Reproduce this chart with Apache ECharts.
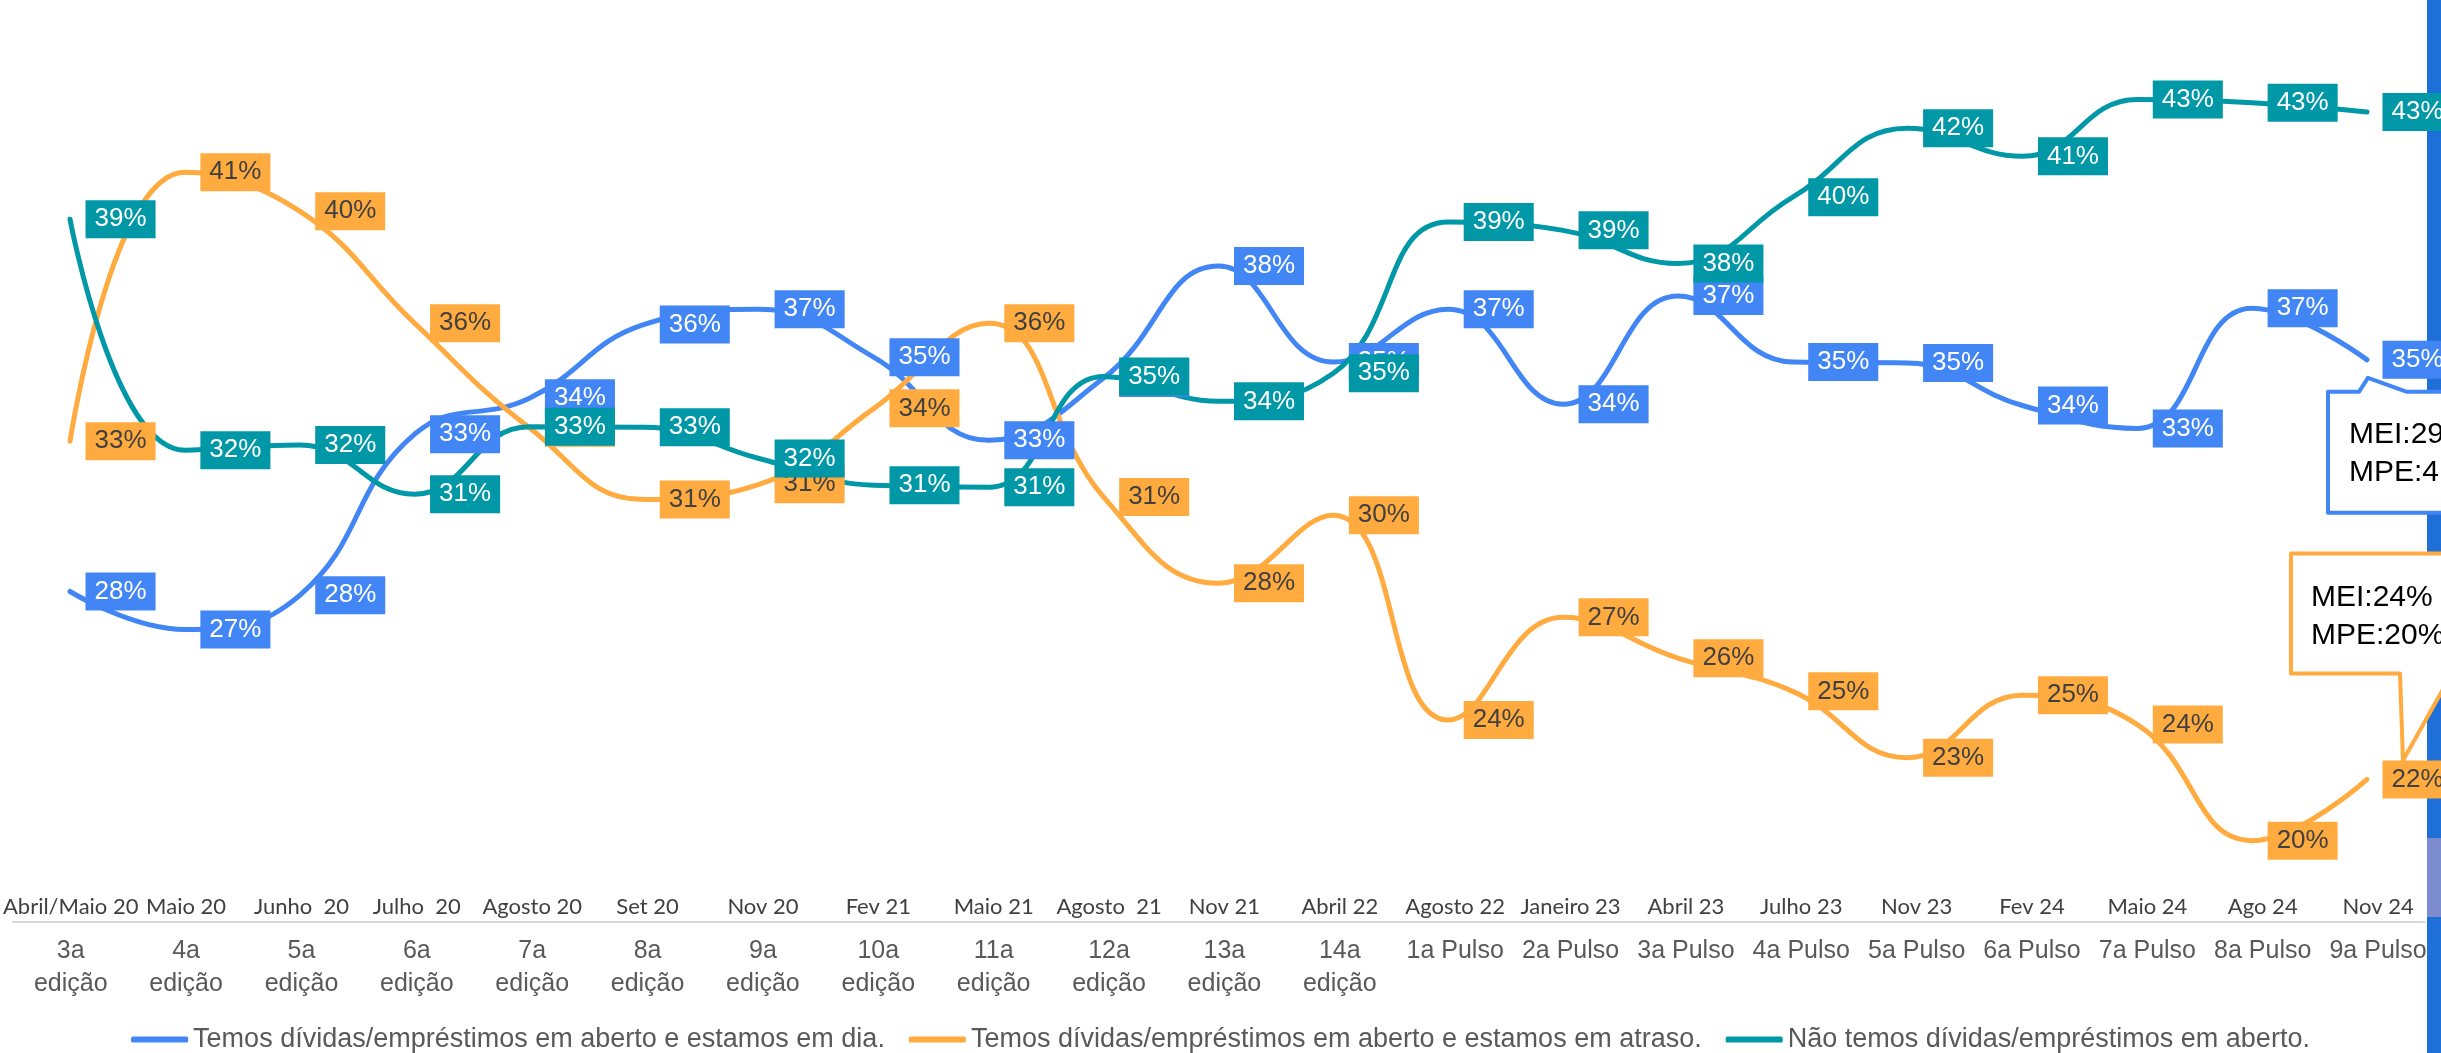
<!DOCTYPE html>
<html>
<head>
<meta charset="utf-8">
<title>Dívidas e empréstimos</title>
<script src="https://cdn.jsdelivr.net/npm/echarts@6/dist/echarts.min.js"></script>
<style>
html,body{margin:0;padding:0;background:#fff;}
#main{width:2441px;height:1053px;}
</style>
</head>
<body>
<div id="main"></div>
<script>
// categorias (data da pesquisa / edição)
var datas=['Abril/Maio 20','Maio 20','Junho  20','Julho  20','Agosto 20','Set 20','Nov 20','Fev 21','Maio 21','Agosto  21','Nov 21','Abril 22',
           'Agosto 22','Janeiro 23','Abril 23','Julho 23','Nov 23','Fev 24','Maio 24','Ago 24','Nov 24'];
var edicoes=['3a\nedição','4a\nedição','5a\nedição','6a\nedição','7a\nedição','8a\nedição','9a\nedição','10a\nedição','11a\nedição','12a\nedição','13a\nedição','14a\nedição',
             '1a Pulso','2a Pulso','3a Pulso','4a Pulso','5a Pulso','6a Pulso','7a Pulso','8a Pulso','9a Pulso'];

var nomes=['Temos dívidas/empréstimos em aberto e estamos em dia.',
           'Temos dívidas/empréstimos em aberto e estamos em atraso.',
           'Não temos dívidas/empréstimos em aberto.'];

// valores em %
var emDia=[27.81,26.62,27.69,32.74,33.87,36.18,36.66,35.15,32.55,34.50,38.01,35.00,36.66,33.68,37.07,35.00,34.97,33.64,32.92,36.69,35.07];
var emAtraso=[32.52,40.95,39.73,36.22,32.94,30.69,31.17,33.55,36.22,30.77,28.07,30.20,23.78,27.00,25.72,24.68,22.60,24.56,23.64,20.00,21.92];
var semDividas=[39.48,32.24,32.40,30.86,32.97,32.96,31.98,31.14,31.08,34.55,33.77,34.65,39.39,39.13,38.09,40.17,42.33,41.45,43.23,43.13,42.84];

// textos das caixas (última edição)
var calloutEmDia='MEI:29%\nMPE:4';
var calloutAtraso='MEI:24%\nMPE:20%';

var cores=['#4285F4','#FFAB40','#0097A7'];

window.onload=function(){

    var myChart=echarts.init(document.getElementById('main'),null,{renderer:'canvas'});

    function serie(i,valores,corTexto){
        return {
            name:nomes[i],
            type:'line',
            xAxisIndex:0,
            yAxisIndex:0,
            data:valores,
            smooth:0.45,
            symbol:'circle',
            symbolSize:1,
            itemStyle:{color:cores[i]},
            lineStyle:{width:5,color:cores[i],cap:'round'},
            label:{
                show:true,
                position:'right',
                distance:15,
                formatter:function(p){return Math.round(p.value)+'%';},
                backgroundColor:cores[i],
                color:corTexto,
                fontFamily:'Liberation Sans',
                fontSize:26,
                lineHeight:27,
                padding:[6,9,5,9]
            },
            emphasis:{disabled:true}
        };
    }

    var option={
        backgroundColor:'#fff',
        animation:false,
        grid:[
            {left:12.6,right:16.6,top:0,bottom:131.3},
            {left:11.3,right:5.2,top:0,bottom:131.3}
        ],
        legend:{
            top:1021,
            left:'center',
            itemWidth:57,
            itemHeight:6,
            itemGap:24,
            icon:'roundRect',
            textStyle:{fontFamily:'Liberation Sans',fontSize:27,color:'#595959'},
            data:nomes
        },
        xAxis:[
            {
                gridIndex:0,type:'category',data:edicoes,boundaryGap:true,
                axisLine:{show:true,lineStyle:{color:'#D9D9D9',width:2}},
                axisTick:{show:false},axisLabel:{show:false}
            },
            {
                gridIndex:1,type:'category',data:edicoes,boundaryGap:true,
                axisLine:{show:false},axisTick:{show:false},
                axisLabel:{interval:0,margin:13,fontFamily:'Liberation Sans',fontSize:25,lineHeight:33,color:'#595959'}
            },
            {
                gridIndex:1,type:'category',data:datas,boundaryGap:true,position:'bottom',
                axisLine:{show:false},axisTick:{show:false},
                axisLabel:{interval:0,inside:true,margin:4,fontFamily:'Lato',fontSize:22,color:'#404040'}
            }
        ],
        yAxis:[
            {gridIndex:0,type:'value',min:17.46,max:46.35,show:false,splitLine:{show:false}},
            {gridIndex:1,type:'value',min:0,max:1,show:false,splitLine:{show:false}}
        ],
        graphic:[
            {id:'barra',type:'rect',z:0,shape:{x:2427,y:0,width:14,height:1053},style:{fill:'#1F6FD8'}},
            {id:'faixa',type:'rect',z:0,shape:{x:2427,y:838,width:14,height:79},style:{fill:'#7D8CCF'}}
        ],
        series:[
            serie(0,emDia,'#fff'),
            serie(1,emAtraso,'#404040'),
            serie(2,semDividas,'#fff')
        ]
    };

    myChart.setOption(option);

    // caixas de destaque ligadas ao último ponto
    var n=datas.length-1;
    var a=myChart.convertToPixel({seriesIndex:0},[n,emDia[n]]);
    var b=myChart.convertToPixel({seriesIndex:1},[n,emAtraso[n]]);

    var ax=a[0],ay=a[1];
    var bT=ay+32,bB=ay+153,bL=ax-39,bR=ax+260;
    var bx=b[0],by=b[1];
    var oT=by-226,oB=by-106,oL=bx-76,oR=bx+260;

    myChart.setOption({
        graphic:[
            {id:'barra'},{id:'faixa'},
            {
                id:'callAzul',type:'polygon',z:100,
                shape:{points:[[bL,bT],[ax-8,bT],[ax+1,ay+18],[ax+40,bT],[bR,bT],[bR,bB],[bL,bB]]},
                style:{fill:'#fff',stroke:cores[0],lineWidth:4,lineJoin:'round'}
            },
            {
                id:'txtAzul',type:'text',z:101,x:ax-18,y:ay+94,
                style:{text:calloutEmDia,font:'30px "Liberation Sans"',fill:'#000',verticalAlign:'middle',lineHeight:38}
            },
            {
                id:'callLaranja',type:'polygon',z:100,
                shape:{points:[[oL,oT],[oR,oT],[oR,oB],[bx+85,oB],[bx+36,by-19],[bx+33,oB],[oL,oB]]},
                style:{fill:'#fff',stroke:cores[1],lineWidth:4,lineJoin:'round'}
            },
            {
                id:'txtLaranja',type:'text',z:101,x:bx-56,y:by-163,
                style:{text:calloutAtraso,font:'30px "Liberation Sans"',fill:'#000',verticalAlign:'middle',lineHeight:38}
            }
        ]
    });
}
</script>
</body>
</html>
